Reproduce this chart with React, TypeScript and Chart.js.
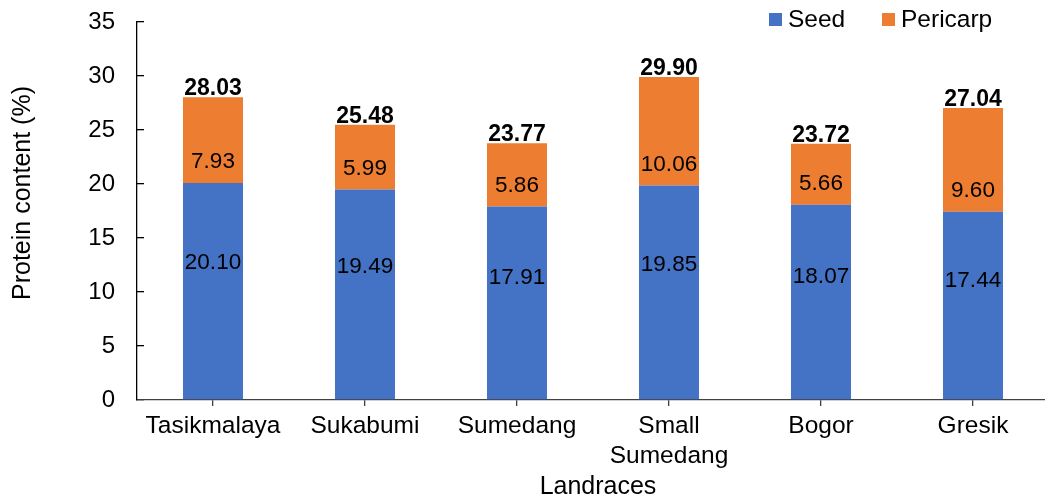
import React, { useEffect, useRef } from "react";
import { Chart, registerables } from "chart.js";

Chart.register(...registerables);

const categories: (string | string[])[] = [
  "Tasikmalaya",
  "Sukabumi",
  "Sumedang",
  ["Small", "Sumedang"],
  "Bogor",
  "Gresik",
];
const seedValues = [20.1, 19.49, 17.91, 19.85, 18.07, 17.44];
const pericarpValues = [7.93, 5.99, 5.86, 10.06, 5.66, 9.6];
const totalValues = [28.03, 25.48, 23.77, 29.9, 23.72, 27.04];
const seriesNames = ["Seed", "Pericarp"];
const seriesColors = ["#4472C4", "#ED7D31"];
const yTitle = "Protein content (%)";
const xTitle = "Landraces";

const FONT = "'Liberation Sans', Arial, sans-serif";

const labelPlugin = {
  id: "valueLabels",
  afterDatasetsDraw(chart: any) {
    const ctx = chart.ctx;
    ctx.save();
    ctx.fillStyle = "#000";
    ctx.textAlign = "center";
    const seedMeta = chart.getDatasetMeta(0);
    const perMeta = chart.getDatasetMeta(1);
    seedMeta.data.forEach((el: any, i: number) => {
      const { x, y, base } = el.getProps(["x", "y", "base"], true);
      ctx.font = `22.5px ${FONT}`;
      ctx.textBaseline = "middle";
      ctx.fillText(seedValues[i].toFixed(2), x, base - 0.63 * (base - y));
    });
    perMeta.data.forEach((el: any, i: number) => {
      const { x, y, base } = el.getProps(["x", "y", "base"], true);
      ctx.font = `22.5px ${FONT}`;
      ctx.textBaseline = "middle";
      ctx.fillText(pericarpValues[i].toFixed(2), x, base - 21);
      ctx.font = `bold 23px ${FONT}`;
      ctx.textBaseline = "alphabetic";
      ctx.fillText(totalValues[i].toFixed(2), x, y - 2);
    });
    ctx.restore();
  },
};

const decorPlugin = {
  id: "decor",
  afterDraw(chart: any) {
    const ctx = chart.ctx;
    ctx.save();
    ctx.fillStyle = "#000";
    ctx.font = `25px ${FONT}`;
    // y axis title
    ctx.save();
    ctx.translate(23, 193);
    ctx.rotate(-Math.PI / 2);
    ctx.textAlign = "center";
    ctx.textBaseline = "middle";
    ctx.fillText(yTitle, 0, 0);
    ctx.restore();
    // x axis title
    ctx.textAlign = "center";
    ctx.textBaseline = "middle";
    ctx.fillText(xTitle, 598, 487);
    // legend
    ctx.font = `24.5px ${FONT}`;
    const items = [
      { box: 769, text: 788 },
      { box: 882, text: 901 },
    ];
    items.forEach((it, i) => {
      ctx.fillStyle = seriesColors[i];
      ctx.fillRect(it.box, 13, 13, 13);
      ctx.fillStyle = "#000";
      ctx.textAlign = "left";
      ctx.textBaseline = "middle";
      ctx.fillText(seriesNames[i], it.text, 20);
    });
    ctx.restore();
  },
};

export default function App() {
  const ref = useRef<HTMLCanvasElement | null>(null);
  useEffect(() => {
    if (!ref.current) return;
    const chart = new Chart(ref.current, {
      type: "bar",
      data: {
        labels: categories,
        datasets: [
          {
            label: seriesNames[0],
            data: seedValues,
            backgroundColor: seriesColors[0],
            categoryPercentage: 1,
            barPercentage: 0.395,
          },
          {
            label: seriesNames[1],
            data: pericarpValues,
            backgroundColor: seriesColors[1],
            categoryPercentage: 1,
            barPercentage: 0.395,
          },
        ],
      },
      options: {
        animation: false,
        responsive: true,
        maintainAspectRatio: false,
        layout: { padding: { top: 22, right: 3, left: 0, bottom: 0 } },
        plugins: {
          legend: { display: false },
          tooltip: { enabled: false },
        },
        scales: {
          x: {
            stacked: true,
            grid: {
              offset: false,
              drawOnChartArea: false,
              tickLength: 6,
              color: "#404040",
              lineWidth: 1.3,
            },
            border: { color: "#404040", width: 1.3 },
            ticks: {
              color: "#000",
              font: { family: FONT, size: 24.5 },
              padding: 6,
              maxRotation: 0,
              autoSkip: false,
            },
            afterFit: (s: any) => {
              s.height = 99;
              s.paddingLeft = 0;
              s.paddingRight = 0;
            },
          },
          y: {
            stacked: true,
            min: 0,
            max: 35,
            grid: {
              drawOnChartArea: false,
              tickLength: -7,
              color: "#000",
              lineWidth: 1.3,
            },
            border: { color: "#000", width: 1.3 },
            ticks: {
              stepSize: 5,
              color: "#000",
              font: { family: FONT, size: 24 },
              padding: 29,
            },
            afterFit: (s: any) => {
              s.width = 137;
              s.paddingTop = 0;
              s.paddingBottom = 0;
            },
          },
        },
      },
      plugins: [labelPlugin, decorPlugin],
    });
    return () => chart.destroy();
  }, []);
  return (
    <div
      style={{
        position: "fixed",
        left: 0,
        top: 0,
        width: 1045,
        height: 499,
        overflow: "hidden",
        background: "#fff",
      }}
    >
      <div style={{ position: "relative", width: 1052, height: 499 }}>
        <canvas ref={ref} />
      </div>
    </div>
  );
}
